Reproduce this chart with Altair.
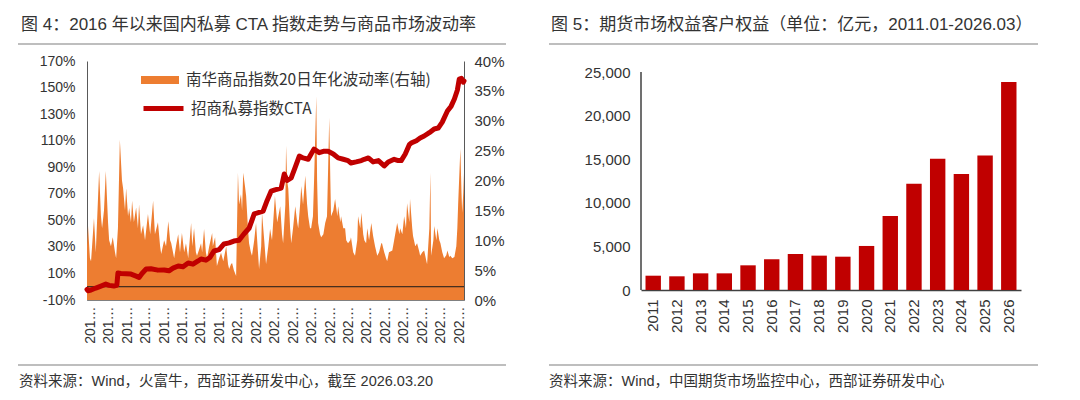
import altair as alt
import pandas as pd

CJK = "Noto Sans CJK SC"
LAT = "Liberation Sans, Noto Sans CJK SC"
TXT = "#333333"

# ---------------- Figure 4: CTA index vs commodity volatility ----------------
vol_name = "南华商品指数20日年化波动率(右轴)"
cta_name = "招商私募指数CTA"

# decimal years, Nanhua commodity index 20d annualised volatility (%)
vol_year = [2016.00, 2016.03, 2016.08, 2016.11, 2016.19, 2016.24, 2016.33, 2016.38, 2016.41, 2016.46, 2016.51,
            2016.57, 2016.60, 2016.65, 2016.70, 2016.76, 2016.79, 2016.84, 2016.89, 2016.95, 2016.98,
            2017.03, 2017.06, 2017.11, 2017.14, 2017.19, 2017.22, 2017.27, 2017.33, 2017.38, 2017.41,
            2017.46, 2017.52, 2017.57, 2017.65, 2017.71, 2017.79, 2017.84, 2017.92, 2017.98,
            2018.01, 2018.09, 2018.14, 2018.20, 2018.25, 2018.28, 2018.36, 2018.41, 2018.47, 2018.52,
            2018.57, 2018.63, 2018.68, 2018.74, 2018.82, 2018.85, 2018.90, 2018.95, 2018.98,
            2019.04, 2019.09, 2019.12, 2019.17, 2019.22, 2019.25, 2019.31, 2019.39, 2019.41, 2019.47,
            2019.52, 2019.58, 2019.63, 2019.69, 2019.77, 2019.82, 2019.85, 2019.90, 2019.93, 2019.98,
            2020.04, 2020.09, 2020.12, 2020.17, 2020.20, 2020.23, 2020.28, 2020.31, 2020.36, 2020.39,
            2020.44, 2020.47, 2020.53, 2020.58, 2020.63, 2020.66, 2020.72, 2020.74, 2020.80, 2020.85,
            2020.91, 2020.96,
            2021.01, 2021.07, 2021.09, 2021.15, 2021.23, 2021.28, 2021.31, 2021.37, 2021.39, 2021.42,
            2021.45, 2021.50, 2021.53, 2021.58, 2021.64, 2021.69, 2021.72, 2021.77, 2021.80, 2021.85,
            2021.91, 2021.96, 2021.99,
            2022.04, 2022.07, 2022.12, 2022.15, 2022.21, 2022.23, 2022.26, 2022.31, 2022.34, 2022.40,
            2022.45, 2022.50, 2022.53, 2022.56, 2022.59, 2022.61, 2022.67, 2022.72, 2022.78, 2022.80,
            2022.86, 2022.88, 2022.94, 2022.99,
            2023.02, 2023.07, 2023.13, 2023.15, 2023.21, 2023.26, 2023.32, 2023.34, 2023.40, 2023.43,
            2023.48, 2023.51, 2023.56, 2023.59, 2023.64, 2023.70, 2023.75, 2023.80, 2023.86, 2023.91,
            2023.97, 2023.99,
            2024.05, 2024.10, 2024.13, 2024.18, 2024.27, 2024.32, 2024.40, 2024.46, 2024.48, 2024.54,
            2024.59, 2024.64, 2024.67, 2024.73, 2024.75, 2024.81, 2024.83, 2024.89, 2024.94,
            2025.00, 2025.02, 2025.08, 2025.13, 2025.19, 2025.21, 2025.27, 2025.30, 2025.32, 2025.38,
            2025.40, 2025.46, 2025.49, 2025.54, 2025.57, 2025.62, 2025.67, 2025.73, 2025.76, 2025.81,
            2025.84, 2025.89, 2025.95,
            2026.00, 2026.03, 2026.05, 2026.11, 2026.14, 2026.16, 2026.19, 2026.21]
vol_pct = [9, 12.4, 7, 6.5, 13.7, 8, 21.6, 14, 12, 15, 21.6, 13, 10, 9, 10.5, 8, 7, 12, 26.8, 20, 18.7,
           15, 18.7, 14, 15.4, 13, 16.6, 13, 15.5, 12, 16, 11, 12.5, 10, 14.4, 11, 16.6, 11, 13, 9,
           7.7, 10, 9, 13.2, 10, 9.5, 7, 9, 11, 8, 11.2, 8, 9.5, 7, 12.9, 9, 12, 8, 7.4,
           8.5, 9.5, 8, 11.9, 8, 7, 9, 11.2, 9, 10.5, 5.7, 7, 7.9, 6.5, 9, 6, 5.2, 6, 6.2, 5,
           4, 21.3, 16, 17.7, 15, 21.3, 19, 17.4, 12, 9.5, 8, 7.4, 10, 12.9, 8, 5.2, 9, 14.6, 10, 6, 9, 11.9,
           10, 15.7, 17.4, 13, 15.7, 11, 9.5, 16, 25.8, 20, 18.6, 12, 9.5, 12, 15.7, 13, 12, 16, 19.1, 16,
           20.8, 16, 14,
           12, 12, 14, 20, 34.1, 20, 12.9, 11, 10.5, 11, 12.9, 14, 22, 30.5, 20, 14, 15, 16.9, 14, 15.7,
           13, 14, 12, 12,
           10, 9.5, 10, 10.5, 8, 7.4, 10, 14, 12, 14.6, 11, 10, 9.5, 12, 10, 12.9, 10.7, 9, 7.4, 8, 9.5, 9.5,
           8, 7, 6.5, 8, 8.3, 10, 12.9, 11, 12, 11, 14, 12, 16.2, 13, 16.9, 12, 10.7, 9, 9.5,
           8, 7.4, 8, 8.3, 6.5, 6, 12, 21.3, 7.4, 10, 12.4, 10, 12, 10, 9.5, 8, 7, 7.5, 8.3, 7.2, 7.4, 7, 7.2,
           9, 12, 16, 25.3, 18, 14.6, 18, 21.3]

# decimal years, China Merchants private CTA index cumulative (%)
cta_year = [2016.00, 2016.03, 2016.11, 2016.24, 2016.38, 2016.51, 2016.60, 2016.73, 2016.81, 2016.84, 2016.92,
            2017.06, 2017.19, 2017.33, 2017.41, 2017.49, 2017.60, 2017.73, 2017.92,
            2018.09, 2018.22, 2018.33, 2018.47, 2018.60, 2018.74, 2018.87,
            2019.01, 2019.09, 2019.22, 2019.33, 2019.44, 2019.58, 2019.71, 2019.85, 2019.98,
            2020.12, 2020.25, 2020.39, 2020.53, 2020.66, 2020.77, 2020.88, 2020.99,
            2021.09, 2021.26, 2021.34, 2021.42, 2021.53, 2021.64, 2021.75, 2021.85, 2021.99,
            2022.07, 2022.15, 2022.29, 2022.40, 2022.53, 2022.67, 2022.80, 2022.94,
            2023.07, 2023.15, 2023.29, 2023.43, 2023.51, 2023.62, 2023.75, 2023.89,
            2024.05, 2024.16, 2024.32, 2024.43, 2024.51, 2024.62, 2024.73, 2024.78, 2024.92,
            2025.02, 2025.13, 2025.27, 2025.40, 2025.51, 2025.62, 2025.76, 2025.86, 2025.95,
            2026.03, 2026.08, 2026.14, 2026.19, 2026.21]
cta_pct = [-2, -3, -2.5, -1, 0.5, 2, 1, 0.5, 1, 10.3, 10,
           9.8, 9.5, 8, 7, 10, 13.3, 13.5, 12.5,
           12.6, 12, 14, 15.6, 15, 17.9, 17,
           19.4, 20.9, 20, 22, 26.9, 28, 32.2, 33, 34.4,
           35, 39.7, 44, 54.8, 56, 57, 65, 72,
           73, 74.3, 84.9, 80, 81.9, 90, 98.4, 97, 96,
           100, 103.7, 101, 102, 102, 100, 97, 96,
           95, 93.2, 94, 95, 96, 97, 94, 95,
           91, 94, 96, 95, 95, 100, 107, 108.2, 110,
           112, 113.5, 116, 118.8, 119.5, 124, 132.3, 136, 141.4,
           148, 156.4, 157, 154, 155]

x_tick_dates = ["2016-02-01", "2016-08-01", "2017-02-01", "2017-08-01", "2018-02-01", "2018-08-01",
                "2019-02-01", "2019-08-01", "2020-02-01", "2020-08-01", "2021-02-01", "2021-08-01",
                "2022-02-01", "2022-08-01", "2023-02-01", "2023-08-01", "2024-02-01", "2024-08-01",
                "2025-02-01", "2025-08-01", "2026-02-01"]
left_ticks = [-10, 10, 30, 50, 70, 90, 110, 130, 150, 170]
right_ticks = [0, 5, 10, 15, 20, 25, 30, 35, 40]

# ---------------- Figure 5: futures market client equity ----------------
eq_years = ["2011", "2012", "2013", "2014", "2015", "2016", "2017", "2018",
            "2019", "2020", "2021", "2022", "2023", "2024", "2025", "2026"]
eq_values = [1640, 1570, 1910, 1910, 2830, 3520, 4130, 3940,
             3820, 5050, 8490, 12190, 15060, 13300, 15410, 23850]
eq_ticks = [0, 5000, 10000, 15000, 20000, 25000]

title4 = "图 4：2016 年以来国内私募 CTA 指数走势与商品市场波动率"
title5 = "图 5：期货市场权益客户权益（单位：亿元，2011.01-2026.03）"
src4 = "资料来源：Wind，火富牛，西部证券研发中心，截至 2026.03.20"
src5 = "资料来源：Wind，中国期货市场监控中心，西部证券研发中心"


def dec_to_date(y):
    yr = int(y + 1e-9)
    start = pd.Timestamp(year=yr, month=1, day=1)
    return (start + pd.Timedelta(days=(y - yr) * 365.25)).strftime("%Y-%m-%d")


def to_dt(s):
    yy, mm, dd = (int(p) for p in s.split("-"))
    return alt.DateTime(year=yy, month=mm, date=dd)


def text_layer(s, x, y, size, font=LAT):
    return alt.Chart(alt.Data(values=[{}])).mark_text(
        text=s, align="left", baseline="middle", fontSize=size, font=font, color=TXT
    ).encode(x=alt.value(x), y=alt.value(y))


def hrule(x1, x2, y, color="#7f7f7f", w=1.2):
    return alt.Chart(alt.Data(values=[{}])).mark_rule(color=color, strokeWidth=w).encode(
        x=alt.value(x1), x2=alt.value(x2), y=alt.value(y)
    )


vol_df = pd.DataFrame({"date": [dec_to_date(y) for y in vol_year], "vol": vol_pct, "series": vol_name})
cta_df = pd.DataFrame({"date": [dec_to_date(y) for y in cta_year], "cta": cta_pct, "series": cta_name})

W1, H1 = 377, 239

x_left = alt.X(
    "date:T", title=None,
    axis=alt.Axis(values=[to_dt(s) for s in x_tick_dates], format="%Y-%m", labelAngle=270,
                  labelLimit=40, labelFontSize=14, labelPadding=6, ticks=False, grid=False,
                  domainColor="#808080", domainWidth=1),
)

area = alt.Chart(vol_df).mark_area(opacity=1, interpolate="linear").encode(
    x=x_left,
    y=alt.Y("vol:Q", title=None, scale=alt.Scale(domain=[0, 40], nice=False),
            axis=alt.Axis(orient="right", values=right_ticks, labelExpr="datum.value + '%'", ticks=False,
                          grid=False, labelPadding=10, labelFontSize=15, domainColor="#595959")),
    fill=alt.Fill("series:N", scale=alt.Scale(range=["#ED7D31"]),
                  legend=alt.Legend(title=None, orient="none", legendX=54, legendY=0,
                                    symbolType="M-1,-0.21H1V0.21H-1Z", symbolSize=1444,
                                    symbolStrokeWidth=0, symbolOpacity=1, labelFont=CJK, labelFontSize=15.5,
                                    labelColor=TXT, labelOffset=7, padding=0, labelLimit=400)),
)

zero = alt.Chart(alt.Data(values=[{"v": 0}])).mark_rule(color="#1a1a1a", strokeWidth=1).encode(
    y=alt.Y("v:Q", scale=alt.Scale(domain=[-10, 170], nice=False), axis=None)
)

line = alt.Chart(cta_df).mark_line(strokeWidth=5, strokeCap="round", strokeJoin="round").encode(
    x=x_left,
    y=alt.Y("cta:Q", title=None, scale=alt.Scale(domain=[-10, 170], nice=False, zero=False),
            axis=alt.Axis(orient="left", values=left_ticks, labelExpr="datum.value + '%'", ticks=False,
                          grid=False, labelPadding=12, labelFontSize=14, domainColor="#595959")),
    stroke=alt.Stroke("series:N", scale=alt.Scale(range=["#C00000"]),
                      legend=alt.Legend(title=None, orient="none", legendX=54, legendY=25,
                                        symbolType="stroke", symbolSize=1600, symbolStrokeWidth=5,
                                        labelFont=CJK, labelFontSize=15.5, labelColor=TXT, labelOffset=5,
                                        padding=0, labelLimit=400)),
)

left = alt.layer(
    area, zero, line,
    text_layer(title4, -66, -36, 17),
    hrule(-69, 419, -17),
    hrule(-69, 419, 304),
    text_layer(src4, -68, 321, 14.5),
).resolve_scale(y="independent", fill="independent", stroke="independent").properties(width=W1, height=H1)

# ---------------- right panel ----------------
W2, H2 = 380, 229
eq_df = pd.DataFrame({"year": eq_years, "equity": eq_values})
ymax = 25000 * H2 / 218

bars = alt.Chart(eq_df).mark_bar(color="#C00000").encode(
    x=alt.X("year:N", sort=None, title=None, scale=alt.Scale(paddingInner=0.35, paddingOuter=0.19),
            axis=alt.Axis(labelAngle=270, ticks=False, labelFontSize=15, labelPadding=9,
                          domainColor="#404040", domainWidth=1.5, grid=False)),
    y=alt.Y("equity:Q", title=None, scale=alt.Scale(domain=[0, ymax], nice=False),
            axis=alt.Axis(values=eq_ticks, format=",.0f", ticks=False, domain=False, grid=False,
                          labelPadding=11, labelFontSize=15)),
)
yline = alt.Chart(alt.Data(values=[{"a": 0, "b": 25000}])).mark_rule(color="#404040", strokeWidth=1.5).encode(
    x=alt.value(0), y="a:Q", y2="b:Q"
)

right = alt.layer(
    bars, yline,
    text_layer(title5, -90, -36, 17),
    hrule(-92, 397, -17),
    hrule(-92, 397, 304),
    text_layer(src5, -92, 321, 14.5),
).properties(width=W2, height=H2)

chart = alt.hconcat(left, right, spacing=41).properties(
    padding={"left": 9, "top": 8, "right": 5, "bottom": 5}
).configure_view(stroke=None).configure_axis(labelFont=LAT, labelColor=TXT)

chart.save("out.html", embed_options={"renderer": "svg", "actions": False})
